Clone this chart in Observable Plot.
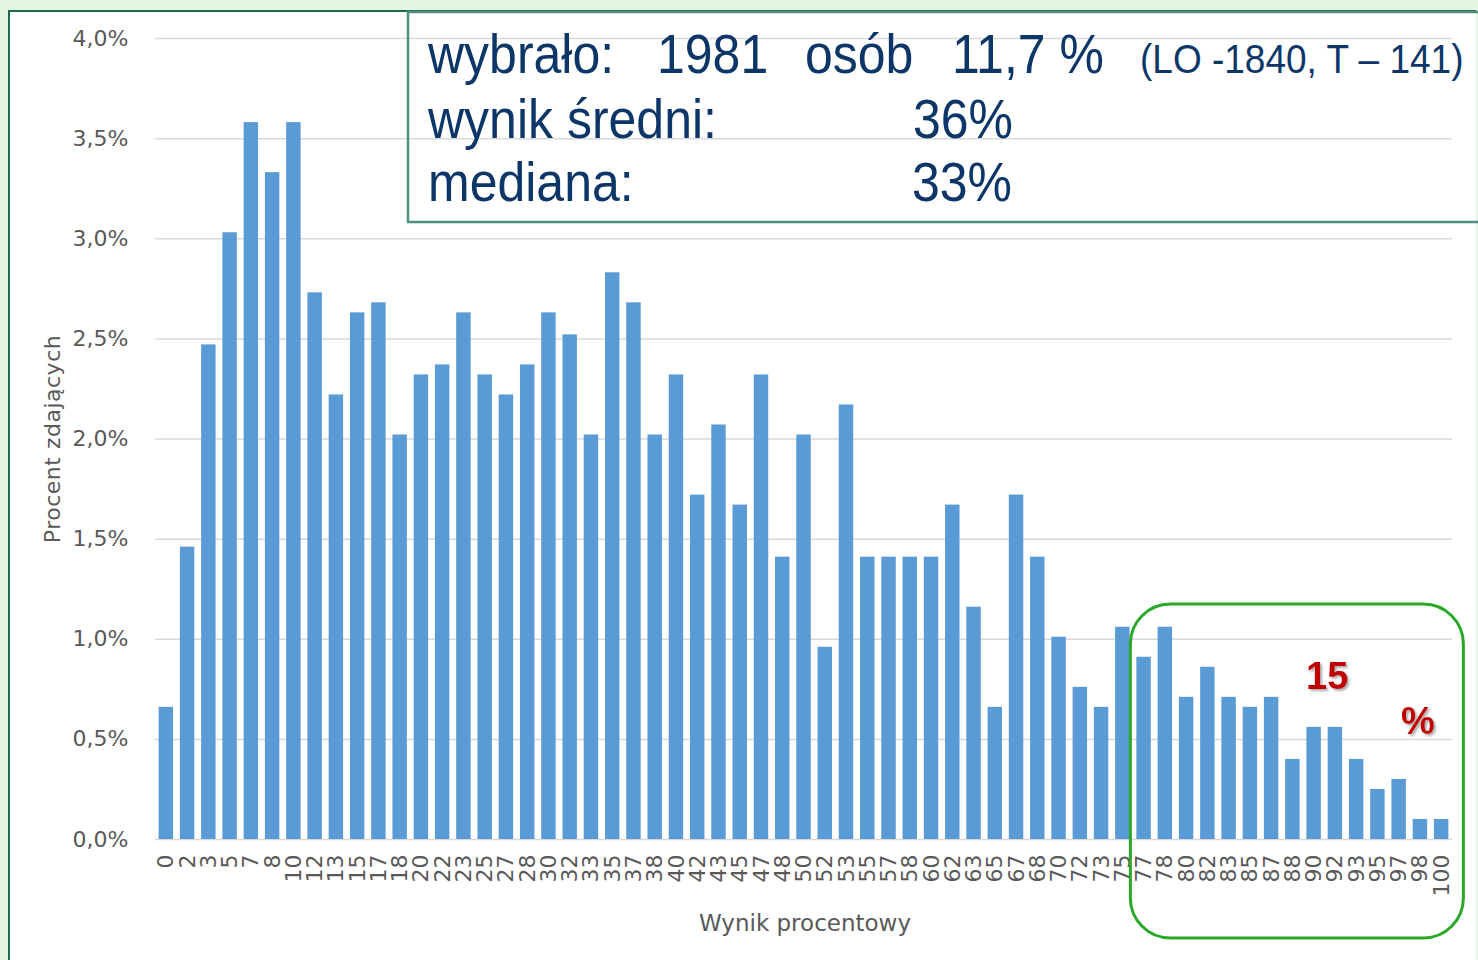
<!DOCTYPE html>
<html>
<head>
<meta charset="utf-8">
<script src="https://cdn.jsdelivr.net/npm/d3@7"></script>
<script src="https://cdn.jsdelivr.net/npm/@observablehq/plot@0.6"></script>
<style>
  html, body { margin: 0; padding: 0; background: #e3f6e3; }
  #wrap { position: relative; width: 1478px; height: 960px; overflow: hidden; }
  #panel { position: absolute; left: 8px; top: 10px; width: 1468px; height: 960px; background: #ffffff;
           border-left: 2px solid #1d6a4d; border-top: 2px solid #1d6a4d; box-sizing: border-box; }
  #chart { position: absolute; left: 0; top: 0; }
  #over { position: absolute; left: 0; top: 0; pointer-events: none; }
</style>
</head>
<body>
<div id="wrap">
  <div id="panel"></div>
  <div id="chart"></div>
  <svg id="over" width="1478" height="960" xmlns="http://www.w3.org/2000/svg"></svg>
</div>
<script>
// ---- data ----
const labels = ["0","2","3","5","7","8","10","12","13","15","17","18","20","22","23","25","27","28","30","32","33","35","37","38","40","42","43","45","47","48","50","52","53","55","57","58","60","62","63","65","67","68","70","72","73","75","77","78","80","82","83","85","87","88","90","92","93","95","97","98","100"];
const values = [0.66,1.46,2.47,3.03,3.58,3.33,3.58,2.73,2.22,2.63,2.68,2.02,2.32,2.37,2.63,2.32,2.22,2.37,2.63,2.52,2.02,2.83,2.68,2.02,2.32,1.72,2.07,1.67,2.32,1.41,2.02,0.96,2.17,1.41,1.41,1.41,1.41,1.67,1.16,0.66,1.72,1.41,1.01,0.76,0.66,1.06,0.91,1.06,0.71,0.86,0.71,0.66,0.71,0.40,0.56,0.56,0.40,0.25,0.30,0.10,0.10];
const yTicks = [0,0.5,1,1.5,2,2.5,3,3.5,4];
const yTitle = "Procent zdających";
const xTitle = "Wynik procentowy";
const boxLine1 = ["wybrało:", "1981", "osób", "11,7 %"];
const boxLine1Small = "(LO -1840, T – 141)";
const boxLine2 = ["wynik  średni:", "36%"];
const boxLine3 = ["mediana:", "33%"];
const highlightFrom = "77";
const highlightNote = ["15", "%"];

const data = labels.map((l, i) => ({label: l, value: values[i]}));
const fmt = d => d.toFixed(1).replace(".", ",") + "%";

const plot = Plot.plot({
  width: 1478,
  height: 960,
  marginLeft: 155,
  marginRight: 26,
  marginTop: 38,
  marginBottom: 121,
  style: {background: "transparent", fontFamily: "DejaVu Sans", fontSize: "22px", color: "#595959"},
  x: {domain: labels, paddingInner: 0.32, paddingOuter: 0.17, round: false, label: null},
  y: {domain: [0, 4], label: null},
  marks: [
    Plot.gridY(yTicks, {stroke: "#d9d9d9", strokeOpacity: 1, strokeWidth: 1.5}),
    Plot.barY(data, {x: "label", y: "value", fill: "#5b9bd5"}),
    Plot.axisY(yTicks, {tickSize: 0, tickPadding: 27, tickFormat: fmt, fill: "#595959", fontSize: 22}),
    Plot.axisX({tickSize: 0, tickRotate: -90, tickPadding: 15, fill: "#595959", fontSize: 22})
  ]
});
document.getElementById("chart").appendChild(plot);

// ---- overlay annotations ----
const ns = "http://www.w3.org/2000/svg";
const over = document.getElementById("over");
function el(tag, attrs, text) {
  const e = document.createElementNS(ns, tag);
  for (const k in attrs) e.setAttribute(k, attrs[k]);
  if (text != null) e.textContent = text;
  over.appendChild(e);
  return e;
}
// axis titles
el("text", {x: 0, y: 0, transform: "translate(60,439) rotate(-90)", "text-anchor": "middle",
  "font-family": "DejaVu Sans", "font-size": 22, "letter-spacing": 0.5, fill: "#595959"}, yTitle);
el("text", {x: 805, y: 931, "text-anchor": "middle",
  "font-family": "DejaVu Sans", "font-size": 23, fill: "#595959"}, xTitle);

// info box
el("rect", {x: 408, y: 12, width: 1090, height: 210, fill: "none", stroke: "#4f8f7f", "stroke-width": 2.5});
const navy = "#0c3667";
function bt(str, x, y, size) {
  el("text", {x: 0, y: 0, transform: `translate(${x},${y}) scale(1,1.12)`,
    "font-family": "Liberation Sans", "font-size": size, fill: navy}, str);
}
bt(boxLine1[0], 428, 73, 50);
bt(boxLine1[1], 657, 73, 50);
bt(boxLine1[2], 805, 73, 50);
bt(boxLine1[3], 952, 73, 50);
bt(boxLine1Small, 1140, 73, 37);
bt(boxLine2[0], 428, 138, 50);
bt(boxLine2[1], 913, 138, 50);
bt(boxLine3[0], 428, 201, 50);
bt(boxLine3[1], 912, 201, 50);

// highlight rounded rectangle (positioned from the x scale)
const xs = plot.scale("x");
const left = xs.apply(highlightFrom) - 6;
const right = xs.apply(labels[labels.length - 1]) + xs.bandwidth + 15;
el("rect", {x: left, y: 604, width: right - left, height: 334, rx: 40, ry: 40,
  fill: "none", stroke: "#2aa82a", "stroke-width": 3});
const defs = el("defs", {});
const f = document.createElementNS(ns, "filter");
f.setAttribute("id", "sh");
f.innerHTML = '<feDropShadow dx="2" dy="2" stdDeviation="1.2" flood-color="#777" flood-opacity="0.6"/>';
defs.appendChild(f);
el("text", {x: 1306, y: 689, "font-family": "Liberation Sans", "font-weight": "bold", "font-size": 38,
  fill: "#c00000", filter: "url(#sh)"}, highlightNote[0]);
el("text", {x: 1401, y: 734, "font-family": "Liberation Sans", "font-weight": "bold", "font-size": 38,
  fill: "#c00000", filter: "url(#sh)"}, highlightNote[1]);
</script>
</body>
</html>
